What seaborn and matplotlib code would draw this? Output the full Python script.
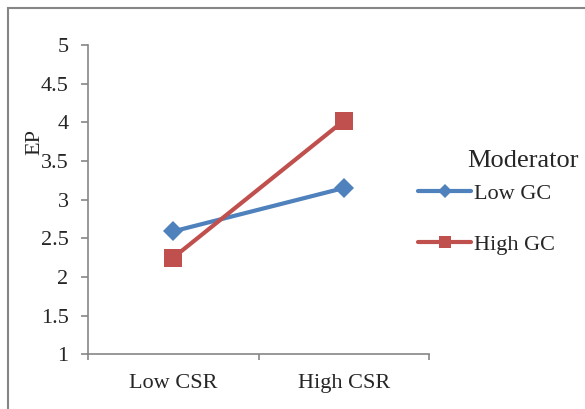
import matplotlib
matplotlib.use("Agg")
import matplotlib.pyplot as plt
import seaborn as sns
import pandas as pd
from matplotlib.patches import Rectangle
from matplotlib.lines import Line2D

categories = ["Low CSR", "High CSR"]
low_gc = [2.59, 3.15]
high_gc = [2.25, 4.02]
series_names = ["Low GC", "High GC"]
y_ticks = [1, 1.5, 2, 2.5, 3, 3.5, 4, 4.5, 5]

df = pd.DataFrame({
    "CSR": categories * 2,
    "EP": low_gc + high_gc,
    "Moderator": [series_names[0]] * 2 + [series_names[1]] * 2,
})

sns.set_theme(style="white")
plt.rcParams["font.family"] = ["Liberation Serif", "DejaVu Serif"]

colors = {"Low GC": "#4F81BD", "High GC": "#C0504D"}
markers = {"Low GC": "D", "High GC": "s"}
FS = 16

fig = plt.figure(figsize=(5.85, 4.09), dpi=100)
ax = fig.add_axes([88/585, 1-354.3/409, (429-88)/585, (354.3-45)/409])

sns.lineplot(data=df, x="CSR", y="EP", hue="Moderator", style="Moderator",
             markers=markers, dashes=False, palette=colors, ax=ax,
             linewidth=3, markersize=11, markeredgewidth=0, legend=False)
for ln in ax.get_lines():
    if ln.get_marker() == "D":
        ln.set_markersize(10.2)
    elif ln.get_marker() == "s":
        ln.set_markersize(13.5)

ax.set_xlim(-0.5, 1.5)
ax.set_ylim(1, 5)
ax.set_yticks(y_ticks)
ax.set_yticklabels([f"{t:g}" for t in y_ticks], fontsize=FS)
ax.set_xticks([-0.5, 0.5, 1.5])
ax.set_xticklabels([])
ax.set_xticks([0, 1], minor=True)
ax.set_xticklabels(categories, minor=True, fontsize=FS)
ax.tick_params(axis="x", which="minor", length=0, pad=14)
ax.tick_params(axis="x", which="major", length=4.5, width=1.2, color="#868686", direction="out", bottom=True)
ax.tick_params(axis="y", length=5, width=1.2, color="#868686", direction="out", left=True, pad=9)
ax.set_xlabel("")
ax.set_ylabel("")
for s in ["top", "right"]:
    ax.spines[s].set_visible(False)
for s in ["left", "bottom"]:
    ax.spines[s].set_color("#868686")
    ax.spines[s].set_linewidth(1.2)

fig.text(35/585, 1-142/409, "EP", rotation=90, ha="center", va="center", fontsize=FS)

leg_sizes = {"D": 6.8, "s": 8}
handles = [Line2D([0], [0], color=colors[n], marker=markers[n], lw=3,
                  markersize=leg_sizes[markers[n]], markeredgewidth=0)
           for n in series_names]
leg = fig.legend(handles, series_names, loc="upper left",
                 bbox_to_anchor=(418/585, 1-183/409), frameon=False,
                 fontsize=FS, handlelength=2.39, handletextpad=0.12,
                 labelspacing=1.38, borderaxespad=0, borderpad=0)
fig.text(467/585, 1-167.3/409, "Moderator", ha="left", va="baseline", fontsize=19)

fig.patches.append(Rectangle((8/585, -0.1), 1.2, 1 - 8/409 + 0.1, transform=fig.transFigure,
                             fill=False, edgecolor="#868686", linewidth=1.5))

fig.savefig("out.png", dpi=100)
